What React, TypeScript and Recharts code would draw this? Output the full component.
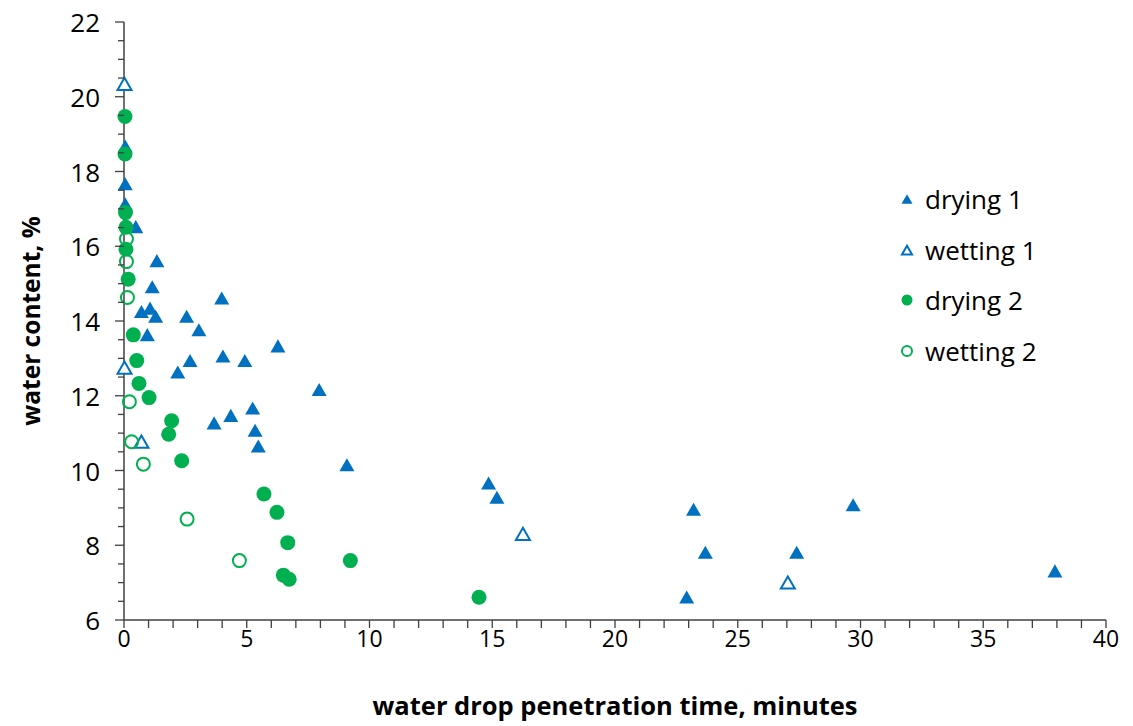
import { Label, Legend, Scatter, ScatterChart, XAxis, YAxis } from "recharts";

const BLUE = "#0070C0";
const GREEN = "#00B050";
const FONT = "'Open Sans', 'Noto Sans', sans-serif";

// water drop penetration time (minutes) / water content (%)
const drying1Time = [
  0.05, 0.05, 0.05, 0.48, 1.34, 1.15, 3.98, 0.71, 1.06, 1.29, 2.55, 3.05, 0.95, 6.27, 2.69, 4.03, 4.92,
  2.19, 5.24, 4.35, 3.67, 5.34, 5.47, 7.95, 9.08, 14.85, 15.19, 23.2, 23.68, 27.4, 29.7, 37.92, 22.92,
];
const drying1Content = [
  18.65, 17.64, 17.1, 16.49, 15.58, 14.88, 14.58, 14.22, 14.31, 14.09, 14.09, 13.73, 13.6, 13.3, 12.91,
  13.03, 12.91, 12.6, 11.64, 11.44, 11.24, 11.04, 10.62, 12.13, 10.12, 9.63, 9.25, 8.93, 7.78, 7.78, 9.05,
  7.28, 6.58,
];

const wetting1Time = [0.02, 0.02, 0.71, 16.25, 27.04];
const wetting1Content = [20.31, 12.72, 10.74, 8.27, 6.97];

const drying2Time = [
  0.04, 0.04, 0.06, 0.08, 0.08, 0.17, 0.38, 0.52, 0.61, 1.02, 1.94, 1.82, 2.35, 5.7, 6.23, 6.67, 9.22,
  6.49, 6.73, 14.46,
];
const drying2Content = [
  19.47, 18.47, 16.9, 16.51, 15.92, 15.12, 13.63, 12.94, 12.33, 11.95, 11.33, 10.97, 10.26, 9.37, 8.88,
  8.07, 7.59, 7.2, 7.09, 6.61,
];

const wetting2Time = [0.1, 0.1, 0.14, 0.22, 0.31, 0.79, 2.57, 4.7];
const wetting2Content = [16.2, 15.59, 14.63, 11.84, 10.77, 10.17, 8.7, 7.59];

const xTicks = Array.from({ length: 41 }, (_, i) => i);
const yTicks = Array.from({ length: 33 }, (_, i) => 6 + i * 0.5);

const zip = (xs: number[], ys: number[]) => xs.map((x, i) => ({ x, y: ys[i] }));

function FilledTriangle({ cx, cy, s = 15 }: any) {
  const h = s * 0.87;
  return (
    <polygon
      points={`${cx},${cy - h * 0.6} ${cx + s / 2},${cy + h * 0.4} ${cx - s / 2},${cy + h * 0.4}`}
      fill={BLUE}
    />
  );
}

function OpenTriangle({ cx, cy, s = 14 }: any) {
  const h = s * 0.87;
  return (
    <polygon
      points={`${cx},${cy - h * 0.6} ${cx + s / 2},${cy + h * 0.4} ${cx - s / 2},${cy + h * 0.4}`}
      fill="#fff"
      stroke={BLUE}
      strokeWidth={2}
    />
  );
}

function FilledCircle({ cx, cy, r = 7.5 }: any) {
  return <circle cx={cx} cy={cy} r={r} fill={GREEN} />;
}

function OpenCircle({ cx, cy, r = 6.5 }: any) {
  return <circle cx={cx} cy={cy} r={r} fill="none" stroke={GREEN} strokeWidth={2} />;
}

function XTick({ x, y, payload }: any) {
  const major = payload.value % 5 === 0;
  return (
    <g>
      <line x1={x} x2={x} y1={y} y2={y + 8} stroke="#404040" strokeWidth={1.3} />
      {major && (
        <text x={x} y={y + 18} textAnchor="middle" dominantBaseline="central" fontSize={23} fontFamily={FONT} fill="#000">
          {payload.value}
        </text>
      )}
    </g>
  );
}

function YTick({ x, y, payload }: any) {
  const major = payload.value % 2 === 0;
  return (
    <g>
      <line x1={x - (major ? 9 : 6)} x2={x} y1={y} y2={y} stroke="#404040" strokeWidth={1.3} />
      {major && (
        <text x={x - 24} y={y} textAnchor="end" dominantBaseline="central" fontSize={26} fontFamily={FONT} fill="#000">
          {payload.value}
        </text>
      )}
    </g>
  );
}

const legendItems = [
  { name: "drying 1", marker: <FilledTriangle cx={10} cy={11} s={11} /> },
  { name: "wetting 1", marker: <OpenTriangle cx={10} cy={11} s={10} /> },
  { name: "drying 2", marker: <FilledCircle cx={10} cy={10} r={5.5} /> },
  { name: "wetting 2", marker: <OpenCircle cx={10} cy={10} r={5} /> },
];

function LegendBox() {
  return (
    <div style={{ fontFamily: FONT, fontSize: 26, color: "#000" }}>
      {legendItems.map((item) => (
        <div key={item.name} style={{ display: "flex", alignItems: "center", height: 50.5 }}>
          <svg width={20} height={20} style={{ marginRight: 8 }}>
            {item.marker}
          </svg>
          <span>{item.name}</span>
        </div>
      ))}
    </div>
  );
}

export default function App() {
  return (
    <div style={{ position: "absolute", left: 0, top: 0, background: "#fff" }}>
      <ScatterChart width={1133} height={726} margin={{ top: 22, right: 27, bottom: 46, left: 44 }}>
        <XAxis
          type="number"
          dataKey="x"
          domain={[0, 40]}
          ticks={xTicks}
          interval={0}
          tickSize={0}
          tickMargin={0}
          tickLine={false}
          tick={<XTick />}
          height={60}
          axisLine={{ stroke: "#404040", strokeWidth: 1.5 }}
        >
          <Label
            content={({ viewBox }: any) => (
              <text
                x={viewBox.x + viewBox.width / 2}
                y={viewBox.y + 85}
                textAnchor="middle"
                dominantBaseline="central"
                fontSize={25.5}
                fontWeight="bold"
                fontFamily={FONT}
                fill="#000"
              >
                water drop penetration time, minutes
              </text>
            )}
          />
        </XAxis>
        <YAxis
          type="number"
          dataKey="y"
          domain={[6, 22]}
          ticks={yTicks}
          interval={0}
          tickSize={0}
          tickMargin={0}
          tickLine={false}
          tick={<YTick />}
          width={80}
          axisLine={{ stroke: "#404040", strokeWidth: 1.5 }}
        >
          <Label
            content={({ viewBox }: any) => {
              const cx = 30;
              const cy = viewBox.y + viewBox.height / 2;
              return (
                <text
                  x={cx}
                  y={cy}
                  transform={`rotate(-90 ${cx} ${cy})`}
                  textAnchor="middle"
                  dominantBaseline="central"
                  fontSize={24.5}
                  fontWeight="bold"
                  fontFamily={FONT}
                  fill="#000"
                >
                  water content, %
                </text>
              );
            }}
          />
        </YAxis>
        <Legend
          layout="horizontal"
          verticalAlign="middle"
          align="center"
          content={() => <LegendBox />}
          wrapperStyle={{ left: 897, top: 174, width: 220 }}
        />
        <Scatter name="drying 1" data={zip(drying1Time, drying1Content)} shape={<FilledTriangle />} isAnimationActive={false} />
        <Scatter name="wetting 1" data={zip(wetting1Time, wetting1Content)} shape={<OpenTriangle />} isAnimationActive={false} />
        <Scatter name="drying 2" data={zip(drying2Time, drying2Content)} shape={<FilledCircle />} isAnimationActive={false} />
        <Scatter name="wetting 2" data={zip(wetting2Time, wetting2Content)} shape={<OpenCircle />} isAnimationActive={false} />
      </ScatterChart>
    </div>
  );
}
